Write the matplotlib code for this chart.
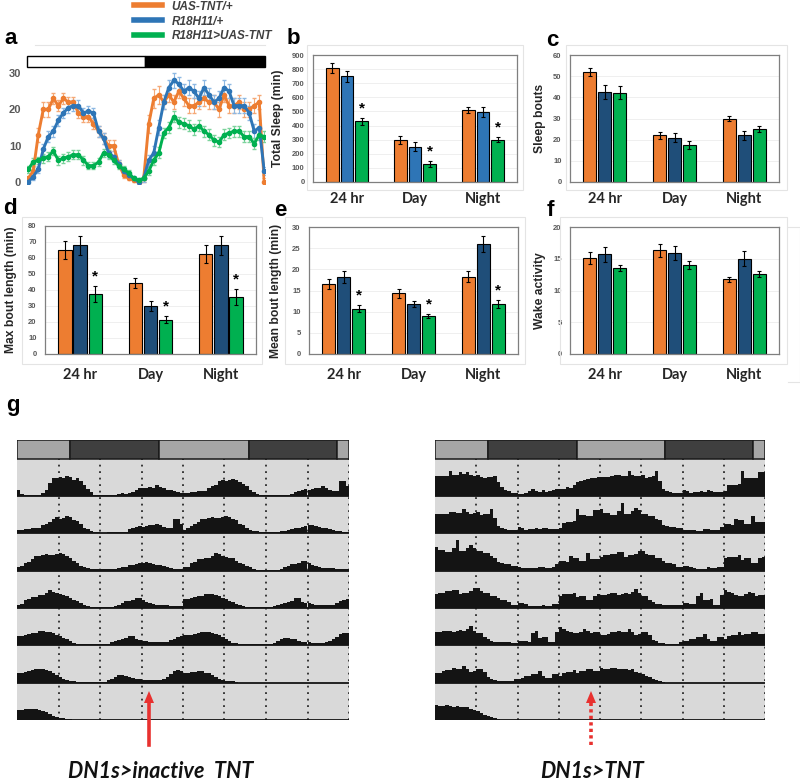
import numpy as np
import matplotlib
matplotlib.use('agg')
import matplotlib.pyplot as plt
from matplotlib.lines import Line2D
from matplotlib.patches import Rectangle, Polygon

plt.rcParams['font.family'] = ['Liberation Sans', 'DejaVu Sans']

W, H = 800, 782

genotypes = ['UAS-TNT/+', 'R18H11/+', 'R18H11>UAS-TNT']
periods = ['24 hr', 'Day', 'Night']

# panel a: sleep per 30 min bin (48 bins over LD)
prof_utn = [1, 3, 13, 20, 20, 23, 21, 23, 22, 22, 19, 18, 18, 16, 14, 12, 10, 10, 5, 2, 1, 0.5, 0, 1,
            16, 23, 24, 22, 24, 22, 25, 23, 21, 21, 22, 23, 22, 22, 20, 24, 21, 21, 22, 20, 20, 21, 22, 0]
prof_r18 = [0, 1.5, 3.5, 9, 12.5, 14, 17, 19, 20.5, 21, 21, 19, 19.5, 19, 14, 12, 8, 7, 5, 3, 2, 1, 0, 1,
            6, 8, 15, 22, 26, 28, 27, 25, 26, 25, 23, 26, 24, 22, 23, 26, 25, 21, 21, 21, 19, 14, 15, 3]
prof_tnt = [3.5, 5.5, 6, 6.5, 7, 8.5, 6, 6.5, 7, 7.5, 7.5, 6, 4.5, 4.5, 5.5, 8, 7.5, 6, 4.5, 3.5, 2.5, 1, 0.5, 1,
            3, 6, 8, 13.5, 15, 18, 16.5, 16, 15.5, 14.5, 15.5, 14, 13, 11.5, 11, 13, 13.5, 14, 14, 12.5, 12.5, 10.5, 13, 12.5]
err_utn = [0.5, 1, 2, 2, 2, 1.5, 1.5, 1.5, 1.5, 1.5, 1.5, 1.5, 1.5, 1.5, 1.5, 1.5, 1.5, 1.5, 1, 1, 0.5, 0.5, 0.5, 1,
           2.5, 2.5, 2.5, 2, 2, 2, 2, 2, 2, 2, 2, 2, 2, 2, 2, 2, 2, 2, 2, 2, 2, 2, 2, 1]
err_r18 = [0.5, 1, 1, 1.5, 1.5, 1.5, 1.5, 1.5, 1.5, 1.5, 1.5, 1.5, 1.5, 1.5, 1.5, 1.5, 1.5, 1.5, 1, 1, 0.5, 0.5, 0.5, 1,
           1.5, 2, 2, 2, 2, 2, 2, 2, 2, 2, 2, 2, 2, 2, 2, 2, 2, 2, 2, 2, 2, 2, 2, 1]
err_tnt = [1, 1, 1, 1.2, 1.2, 1.2, 1.2, 1.2, 1.2, 1.2, 1.2, 1.2, 1, 1, 1, 1.2, 1.2, 1, 1, 1, 0.8, 0.5, 0.5, 0.5,
           1, 1.2, 1.5, 1.5, 1.5, 1.5, 1.5, 1.5, 1.5, 1.5, 1.5, 1.5, 1.5, 1.5, 1.5, 1.5, 1.5, 1.5, 1.5, 1.5, 1.5, 1.5, 1.5, 1.5]

# panels b-f: rows = genotypes, cols = 24 hr / Day / Night
total_sleep = [[805, 298, 508], [750, 250, 498], [430, 128, 300]]
total_sleep_err = [[35, 30, 20], [38, 30, 35], [25, 20, 20]]
sleep_bouts = [[52, 22, 30], [42.5, 21, 22], [42.2, 17.5, 25]]
sleep_bouts_err = [[2, 1.5, 1.2], [3.5, 2, 2], [3, 1.8, 1.5]]
max_bout = [[65, 44.5, 62.5], [68, 30, 68], [37.5, 21.5, 35.5]]
max_bout_err = [[5.5, 3, 5.5], [6, 3, 6], [5, 2, 5]]
mean_bout = [[16.5, 14.3, 18.3], [18.2, 11.8, 26], [10.7, 9, 11.8]]
mean_bout_err = [[1.2, 1, 1.3], [1.5, 0.8, 1.8], [0.8, 0.4, 1]]
wake_act = [[15.1, 16.3, 11.8], [15.7, 15.9, 15], [13.5, 14, 12.6]]
wake_act_err = [[0.9, 1.1, 0.4], [1.2, 1.1, 1.2], [0.5, 0.6, 0.5]]

# panel g: activity per 30 min bin, one list per day (double plotted)
inactive_days = [
    [1.8, 0.5, 0.3, 0.3, 0.3, 0.3, 0.3, 0.8, 2.0, 4.0, 5.5, 5.5, 5.8, 5.5, 6.0, 5.8, 5.0, 5.5, 4.5, 3.3, 2.2, 1.2, 0.4, 0.3,
     0.2, 0.2, 0.2, 0.3, 0.2, 0.6, 0.8, 0.5, 0.8, 1.2, 1.8, 2.5, 2.5, 2.5, 2.8, 2.5, 3.5, 2.8, 2.5, 2.0, 1.8, 1.5, 1.2, 0.8],
    [1.0, 1.0, 1.2, 1.2, 1.5, 1.5, 1.5, 2.5, 3.0, 3.5, 4.5, 5.0, 4.5, 4.8, 5.2, 5.0, 4.2, 3.8, 3.0, 1.8, 1.2, 0.6, 0.3, 0.3,
     0.2, 0.2, 0.3, 0.3, 0.3, 0.3, 0.4, 0.5, 1.2, 1.5, 2.0, 2.2, 2.0, 2.3, 2.5, 2.5, 3.0, 2.5, 2.0, 1.5, 1.5, 4.5, 4.5, 3.0],
    [1.0, 1.5, 2.2, 2.8, 3.5, 4.5, 4.5, 4.8, 5.0, 4.8, 4.8, 5.0, 5.3, 5.0, 4.5, 4.0, 3.0, 2.5, 1.5, 1.0, 0.8, 0.6, 0.5, 0.4,
     0.4, 0.4, 0.4, 0.5, 0.6, 0.7, 1.0, 1.2, 1.6, 1.8, 2.0, 2.2, 2.5, 2.6, 2.3, 2.0, 1.8, 1.6, 1.4, 1.0, 0.8, 0.6, 0.5, 0.4],
    [1.0, 1.2, 2.5, 2.8, 3.5, 3.5, 4.0, 4.0, 4.5, 5.5, 5.0, 4.5, 4.3, 4.0, 3.8, 3.0, 2.5, 2.0, 1.5, 1.0, 0.5, 0.3, 0.3, 0.3,
     0.3, 0.3, 0.2, 0.2, 0.5, 1.0, 1.5, 2.0, 2.0, 2.5, 3.0, 3.0, 2.5, 1.8, 1.5, 1.2, 0.8, 0.8, 0.8, 0.8, 0.5, 0.5, 0.5, 0.5],
    [2.7, 2.8, 3.0, 3.3, 3.7, 3.8, 4.4, 4.4, 4.2, 4.0, 3.8, 3.1, 2.8, 2.2, 1.8, 1.3, 0.8, 0.5, 0.3, 0.3, 0.3, 0.3, 0.3, 0.3,
     0.3, 0.3, 0.5, 1.0, 1.3, 1.6, 1.8, 2.2, 2.9, 2.9, 1.8, 1.6, 1.4, 1.2, 1.0, 0.9, 0.9, 0.9, 0.9, 1.0, 1.5, 2.0, 2.5, 2.7],
    [3.0, 3.0, 3.2, 3.5, 3.8, 4.0, 4.2, 4.0, 3.7, 3.4, 3.0, 2.4, 1.8, 1.2, 0.8, 0.6, 0.4, 0.3, 0.3, 0.3, 0.3, 0.3, 0.3, 0.3,
     0.3, 0.3, 0.8, 1.2, 1.8, 2.2, 2.3, 2.0, 1.8, 1.4, 1.1, 1.0, 0.9, 0.8, 0.8, 0.8, 0.8, 0.9, 1.2, 1.8, 2.5, 3.5, 3.7, 3.6],
    [3.0, 3.0, 3.2, 3.2, 3.4, 3.4, 3.0, 2.8, 2.3, 1.8, 1.2, 0.8, 0.6, 0.5, 0.4, 0.3, 0, 0, 0, 0, 0, 0, 0, 0,
     0, 0, 0, 0, 0, 0, 0, 0, 0, 0, 0, 0, 0, 0, 0, 0, 0, 0, 0, 0, 0, 0, 0, 0],
    [0] * 48,
]
tnt_days = [
    [6.1, 6.1, 6.1, 6.1, 7.5, 6.5, 6.5, 7.2, 6.8, 7.2, 6.5, 6.1, 6.5, 5.9, 5.6, 5.8, 5.9, 6.0, 4.2, 2.8, 1.9, 1.5, 0.9, 0.8,
     0.7, 0.7, 0.9, 1.6, 2.3, 1.5, 1.4, 1.8, 1.4, 1.6, 1.9, 2.3, 2.3, 2.1, 2.8, 2.4, 3.5, 4.2, 4.7, 5.0, 5.1, 5.6, 5.6, 5.9],
    [5.9, 5.9, 5.9, 6.0, 6.5, 6.5, 6.2, 6.2, 7.5, 6.5, 6.0, 6.1, 6.5, 5.6, 5.9, 6.0, 7.5, 4.7, 2.3, 1.6, 1.2, 0.9, 0.9, 0.9,
     1.9, 1.5, 0.9, 1.2, 1.4, 1.6, 1.2, 1.8, 1.5, 1.2, 1.4, 1.4, 1.5, 3.3, 3.4, 3.5, 3.7, 7.5, 5.6, 5.6, 5.4, 5.4, 7.2, 7.2],
    [7.3, 6.2, 6.2, 5.6, 5.6, 6.8, 9.2, 6.0, 6.0, 6.8, 7.8, 7.0, 5.9, 5.9, 5.4, 5.4, 4.5, 4.0, 2.6, 2.2, 1.9, 1.9, 1.5, 1.5,
     1.0, 0.9, 0.9, 0.9, 0.8, 0.8, 1.2, 1.2, 0.9, 0.9, 1.0, 2.1, 3.0, 3.0, 2.6, 4.5, 4.0, 4.0, 3.0, 3.0, 5.4, 3.6, 3.5, 3.5],
    [4.2, 4.7, 4.7, 5.1, 5.1, 5.6, 5.6, 4.2, 4.7, 4.7, 5.1, 6.1, 6.1, 5.1, 4.7, 4.7, 3.8, 3.8, 2.9, 2.4, 2.4, 1.9, 1.0, 1.0,
     1.4, 1.4, 1.2, 0.7, 0.5, 0.5, 0.5, 1.0, 0.7, 0.7, 1.2, 1.2, 3.8, 4.2, 4.2, 4.2, 4.7, 3.3, 3.8, 3.8, 2.4, 2.4, 3.8, 4.2],
    [4.1, 4.1, 4.3, 4.5, 4.5, 4.1, 4.3, 4.7, 4.4, 4.9, 5.9, 4.5, 3.6, 3.6, 2.4, 1.8, 1.2, 1.1, 1.0, 0.9, 0.9, 0.9, 0.8, 0.8,
     1.4, 1.4, 1.2, 1.1, 3.6, 4.5, 2.3, 2.5, 2.6, 1.0, 1.0, 4.1, 5.5, 5.0, 4.5, 4.0, 3.6, 3.6, 4.2, 5.0, 4.5, 3.6, 4.1, 4.1],
    [3.0, 3.0, 3.4, 3.9, 3.9, 4.4, 4.2, 4.2, 5.0, 4.0, 3.2, 3.5, 4.0, 4.0, 3.2, 1.6, 1.2, 0.8, 0.6, 0.5, 0.5, 0.5, 0.5, 1.0,
     1.2, 1.4, 1.9, 1.9, 2.5, 2.5, 3.5, 1.9, 1.4, 1.4, 2.5, 2.5, 2.0, 2.8, 3.2, 3.2, 3.9, 3.0, 3.5, 3.5, 4.0, 4.0, 3.5, 3.5],
    [4.5, 4.2, 4.2, 4.5, 4.3, 4.0, 4.2, 4.0, 3.9, 4.0, 3.2, 3.0, 2.6, 2.0, 1.6, 1.2, 0.9, 0.6, 0.3, 0, 0, 0, 0, 0,
     0, 0, 0, 0, 0, 0, 0, 0, 0, 0, 0, 0, 0, 0, 0, 0, 0, 0, 0, 0, 0, 0, 0, 0],
    [0] * 48,
]
ld_edges = [0, 7.7, 20.6, 33.5, 46.3, 48]

orange = '#ED7D31'
green = '#00B050'
grey_txt = '#595959'

fig = plt.figure(figsize=(8, 7.82), dpi=100)


def add_ax(x0, y0, x1, y1):
    # axes from pixel box (top-left origin)
    return fig.add_axes([x0 / W, 1 - y1 / H, (x1 - x0) / W, (y1 - y0) / H])


def frame(x0, y0, x1, y1):
    fig.add_artist(Rectangle((x0 / W, 1 - y1 / H), (x1 - x0) / W, (y1 - y0) / H,
                             transform=fig.transFigure, fill=False, ec='#E4E4E4', lw=0.8))


def letter(x, y, s):
    fig.text(x / W, 1 - y / H, s, fontsize=16, fontweight='bold', va='center', ha='left')


# ---- panel a
ax = add_ax(26.7, 56, 265, 183.8)
bins = np.arange(48)
for prof, err, c, ec in [(prof_utn, err_utn, orange, '#F5A977'),
                         (prof_r18, err_r18, '#2E75B6', '#8DB8E3'),
                         (prof_tnt, err_tnt, green, '#7CD39C')]:
    ax.errorbar(bins, prof, yerr=err, color=c, ecolor=ec, lw=2.1, marker='o', ms=3,
                elinewidth=0.8, capsize=1.2)
ax.set_xlim(-0.3, 47.15)
ax.set_ylim(-0.5, 34.7)
ax.add_patch(Rectangle((-0.3, 31.67), 23.6, 3.0, fc='white', ec='black', lw=1, clip_on=False))
ax.add_patch(Rectangle((23.3, 31.67), 23.85, 3.0, fc='black', ec='black', lw=1, clip_on=False))
ax.set_yticks([0, 10, 20, 30])
ax.set_xticks([])
for s in ax.spines.values():
    s.set_visible(False)
ax.tick_params(axis='y', length=0, labelsize=8, labelcolor=grey_txt, pad=4)
for t in ax.get_yticklabels():
    t.set_fontweight('bold')
fig.add_artist(Line2D([35 / W, 265 / W], [1 - 45 / H, 1 - 45 / H], color='#E4E4E4', lw=0.8))
letter(4, 39, 'a')

handles = [Line2D([], [], color=c, lw=4) for c in [orange, '#2E75B6', green]]
fig.legend(handles, genotypes, loc='upper left', bbox_to_anchor=(133 / W, 1.0), frameon=False,
           handlelength=2.4, handletextpad=0.8, labelspacing=0.25, borderaxespad=0, borderpad=0.05,
           prop=dict(weight='bold', style='italic', size=8.5), labelcolor='#404040')


# ---- bar panels
def bar_panel(box, means, errs, ymax, step, ylabel, blue, stars, lab_x, pad):
    ax = add_ax(*box)
    x = np.arange(3)
    cols = [orange, blue, green]
    for i in range(3):
        ax.bar(x + (i - 1) * 0.215, means[i], 0.19, yerr=errs[i], color=cols[i], edgecolor='black',
               lw=0.8, zorder=2, error_kw=dict(elinewidth=0.8, capsize=1.6, capthick=0.8, ecolor='black'))
    for j in stars:
        ax.text(x[j] + 0.215, means[2][j] + errs[2][j] + ymax * 0.02, '*', ha='center', va='bottom',
                fontsize=11, fontweight='bold')
    ax.set_xlim(-0.5, 2.5)
    ax.set_ylim(0, ymax)
    ax.set_yticks(np.arange(0, ymax + step / 2, step))
    ax.yaxis.grid(True, color='#EDEDED', lw=0.6)
    ax.set_axisbelow(True)
    for s in ax.spines.values():
        s.set_color('#7F7F7F')
        s.set_linewidth(0.9)
    ax.tick_params(axis='y', length=0, labelsize=5.5, labelcolor=grey_txt, pad=6)
    for t in ax.get_yticklabels():
        t.set_fontweight('bold')
    ax.set_xticks(x)
    ax.set_xticklabels(periods, fontsize=10.5, fontweight='bold', color='#262626',
                       family=['Lato', 'DejaVu Sans'])
    ax.tick_params(axis='x', length=0, pad=pad)
    yc = 1 - (box[1] + box[3]) / 2 / H
    fig.text(lab_x / W, yc, ylabel, rotation=90, ha='center', va='center', fontsize=8.7,
             fontweight='bold', color='#262626')
    return ax


bar_panel((313, 55, 517, 182), total_sleep, total_sleep_err, 900, 100, 'Total Sleep (min)',
          '#2E75B6', [0, 1, 2], 278, 7)
bar_panel((570, 55, 779, 182), sleep_bouts, sleep_bouts_err, 60, 10, 'Sleep bouts',
          '#1F4E79', [], 540, 7)
bar_panel((45, 226, 256, 354), max_bout, max_bout_err, 80, 10, 'Max bout length (min)',
          '#1F4E79', [0, 1, 2], 11, 10)
bar_panel((309, 227, 518, 354), mean_bout, mean_bout_err, 30, 5, 'Mean bout length (min)',
          '#1F4E79', [0, 1, 2], 276, 10)
bar_panel((570, 227, 779, 354), wake_act, wake_act_err, 20, 5, 'Wake activity',
          '#1F4E79', [], 540, 10)

frame(307, 45, 523, 190)
frame(566, 45, 787, 190)
frame(22, 217, 262, 364)
frame(285, 217, 525, 364)
frame(560, 217, 787, 364)
fig.add_artist(Line2D([788 / W, 800 / W, 800 / W, 788 / W],
                      [1 - 227 / H, 1 - 227 / H, 1 - 382 / H, 1 - 382 / H], color='#E4E4E4', lw=0.8))

letter(287, 39, 'b')
letter(546, 40, 'c')
letter(3, 209, 'd')
letter(274, 210, 'e')
letter(547, 211, 'f')
letter(6, 405, 'g')

# ---- panel g actograms
RH = 11.3
LDH = 5.7


def actogram(box, days):
    ax = add_ax(*box)
    ax.add_patch(Rectangle((0, 0), 48, 7 * RH, fc='#D9D9D9', ec='none', zorder=0))
    edges = np.arange(96) * 0.5
    for r in range(7):
        base = (6 - r) * RH
        vals = np.concatenate([days[r], days[r + 1]])
        ax.bar(edges, vals, width=0.5, bottom=base, align='edge', color='#141414', lw=0, zorder=2)
        ax.plot([0, 48], [base, base], color='#141414', lw=1.3, zorder=3)
    for h in range(6, 49, 6):
        ax.plot([h, h], [0, 7 * RH], color='#2A2A2A', ls=(0, (1, 2.6)), lw=1.3, zorder=1)
    shades = ['#A6A6A6', '#3F3F3F', '#A6A6A6', '#3F3F3F', '#A6A6A6']
    for k in range(5):
        ax.add_patch(Rectangle((ld_edges[k], 7 * RH), ld_edges[k + 1] - ld_edges[k], LDH,
                               fc=shades[k], ec='#1A1A1A', lw=1.1, zorder=4))
    ax.set_xlim(0, 48)
    ax.set_ylim(0, 7 * RH + LDH)
    ax.axis('off')
    return ax


actogram((17, 440, 349, 720), inactive_days)
actogram((435, 440, 765, 720), tnt_days)

fig.text(161 / W, 1 - 771 / H, 'DN1s>inactive  TNT', ha='center', va='center', fontsize=15.5,
         fontweight='bold', style='italic', family=['Lato', 'DejaVu Sans'], color='#111111')
fig.text(592 / W, 1 - 771 / H, 'DN1s>TNT', ha='center', va='center', fontsize=15.5,
         fontweight='bold', style='italic', family=['Lato', 'DejaVu Sans'], color='#111111')

red = '#E8312F'
for xa, ls in [(149, '-'), (591, (0, (0.9, 0.9)))]:
    fig.add_artist(Line2D([xa / W, xa / W], [1 - 745 / H, 1 - 700 / H], color=red, lw=2.6, ls=ls))
    fig.add_artist(Polygon([[xa / W, 1 - 691 / H], [(xa - 5) / W, 1 - 703 / H], [(xa + 5) / W, 1 - 703 / H]],
                           closed=True, transform=fig.transFigure, fc=red, ec='none'))

plt.savefig('out.png', dpi=100)
